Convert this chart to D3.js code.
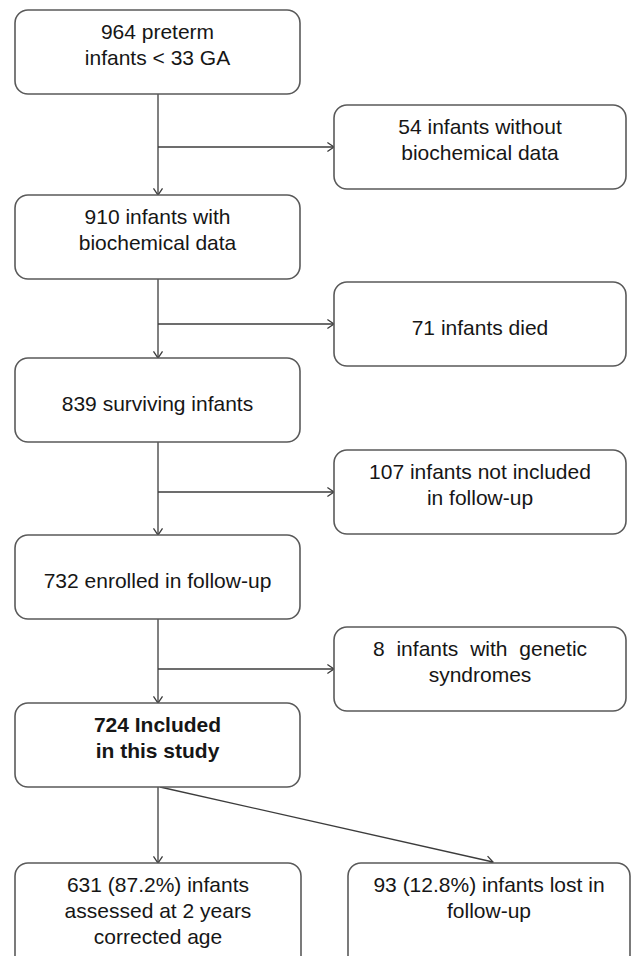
<!DOCTYPE html>
<html>
<head>
<meta charset="utf-8">
<script src="https://cdn.jsdelivr.net/npm/d3@7"></script>
<style>
  html, body { margin: 0; padding: 0; background: #fff; }
  svg { display: block; }
  text { font-family: "Liberation Sans", Arial, sans-serif; font-size: 21px; fill: #161616; }
</style>
</head>
<body>
<div id="chart"></div>
<script>
// ---- data ----
const mainSteps = ["s0", "s1", "s2", "s3", "s4"];
const mainCounts = [964, 910, 839, 732, 724];
const mainLabels = [
  ["964 preterm", "infants < 33 GA"],
  ["910 infants with", "biochemical data"],
  ["839 surviving infants"],
  ["732 enrolled in follow-up"],
  ["724 Included", "in this study"]
];
const mainBold = [false, false, false, false, true];

const excludedCounts = [54, 71, 107, 8];
const excludedLabels = [
  ["54 infants without", "biochemical data"],
  ["71 infants died"],
  ["107 infants not included", "in follow-up"],
  ["8 infants with genetic", "syndromes"]
];

const outcomeCounts = [631, 93];
const outcomePercents = [87.2, 12.8];
const outcomeLabels = [
  ["631 (87.2%) infants", "assessed at 2 years", "corrected age"],
  ["93 (12.8%) infants lost in", "follow-up"]
];

// ---- layout ----
const W = 640, H = 956;
const boxH = 84, radius = 13;
const mainY = d3.scaleOrdinal().domain(mainSteps).range([10, 195, 358, 535, 703]);
const sideY = d3.scaleOrdinal().domain(mainSteps.slice(0, 4)).range([105, 282, 450, 627]);
const mainX = 15, mainW = 285, mainCx = 158;
const sideX = 334, sideW = 292;
const outTop = 863, outH = 110;
const outX = d3.scaleOrdinal().domain([0, 1]).range([15, 348]);
const outW = d3.scaleOrdinal().domain([0, 1]).range([286, 282]);

const svg = d3.select("#chart").append("svg").attr("width", W).attr("height", H);

const boxStroke = "#5a5a5a", lineStroke = "#3c3c3c";

function box(x, y, w, h, lines, bold, wordSpacing) {
  svg.append("rect").attr("x", x).attr("y", y).attr("width", w).attr("height", h)
    .attr("rx", radius).attr("ry", radius)
    .attr("fill", "#fff").attr("stroke", boxStroke).attr("stroke-width", 1.6);
  const t = svg.append("text").attr("text-anchor", "middle")
    .attr("font-weight", bold ? "bold" : "normal");
  if (wordSpacing) t.style("word-spacing", wordSpacing + "px");
  lines.forEach((ln, i) => {
    const by = lines.length === 1 ? y + 53 : y + 28.5 + i * 26;
    t.append("tspan").attr("x", x + w / 2).attr("y", by).text(ln);
  });
}

function arrow(x1, y1, x2, y2) {
  svg.append("line").attr("x1", x1).attr("y1", y1).attr("x2", x2).attr("y2", y2)
    .attr("stroke", lineStroke).attr("stroke-width", 1.3);
  const a = Math.atan2(y2 - y1, x2 - x1), L = 8, s = 0.6;
  const p = [
    [x2 - L * Math.cos(a - s), y2 - L * Math.sin(a - s)],
    [x2, y2],
    [x2 - L * Math.cos(a + s), y2 - L * Math.sin(a + s)]
  ];
  svg.append("path").attr("d", d3.line()(p)).attr("fill", "none")
    .attr("stroke", lineStroke).attr("stroke-width", 1.3);
}

function line(x1, y1, x2, y2) {
  svg.append("line").attr("x1", x1).attr("y1", y1).attr("x2", x2).attr("y2", y2)
    .attr("stroke", lineStroke).attr("stroke-width", 1.3);
}

// vertical arrows between main boxes + side branches
mainSteps.forEach((s, i) => {
  if (i < mainSteps.length - 1) {
    arrow(mainCx, mainY(s) + boxH, mainCx, mainY(mainSteps[i + 1]));
    const by = sideY(s) + boxH / 2;
    arrow(mainCx, by, sideX, by);
  }
});

// outcome arrows
const lastBottom = mainY(mainSteps[4]) + boxH;
arrow(mainCx, lastBottom, mainCx, outTop);
arrow(mainCx + 2, lastBottom, outX(1) + outW(1) / 2 + 4, outTop - 1);

// main boxes
mainSteps.forEach((s, i) => box(mainX, mainY(s), mainW, boxH, mainLabels[i], mainBold[i]));
// side boxes
excludedCounts.forEach((c, i) => box(sideX, sideY(mainSteps[i]), sideW, boxH, excludedLabels[i], false, i === 3 ? 6 : 0));
// outcome boxes
outcomeCounts.forEach((c, i) => box(outX(i), outTop, outW(i), outH, outcomeLabels[i], false));
</script>
</body>
</html>
